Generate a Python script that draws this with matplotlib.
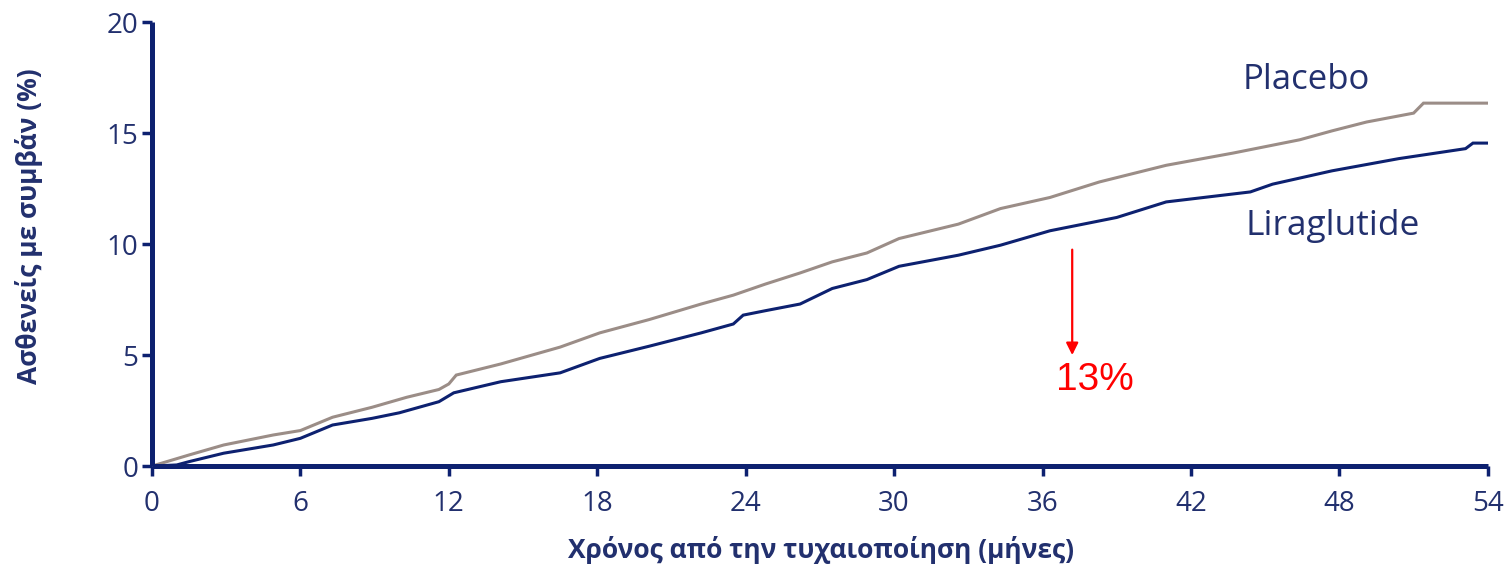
import matplotlib
matplotlib.use("Agg")
import matplotlib.pyplot as plt

plt.rcParams['font.family'] = ['Open Sans', 'DejaVu Sans']

# ---- data ----
placebo_months = [0, 1.5, 2.9, 4.9, 6.0, 7.3, 8.9, 10.3, 11.6, 12.0, 12.3, 14.1, 16.5, 18.1,
                  20.1, 22.2, 23.5, 24.8, 26.2, 27.5, 28.9, 30.2, 32.6, 34.3, 36.3, 38.3,
                  41.0, 43.7, 46.4, 47.7, 49.1, 51.0, 51.4, 54]
placebo_pct = [0, 0.5, 0.95, 1.4, 1.6, 2.2, 2.65, 3.1, 3.45, 3.7, 4.1, 4.6, 5.36, 6.0,
               6.6, 7.3, 7.7, 8.2, 8.7, 9.2, 9.6, 10.25, 10.9, 11.6, 12.1, 12.8,
               13.55, 14.1, 14.7, 15.1, 15.5, 15.9, 16.35, 16.35]

lira_months = [0, 1.0, 1.5, 2.9, 4.9, 6.0, 7.3, 8.9, 10.0, 11.6, 12.2, 14.1, 16.5, 18.1,
               20.1, 22.2, 23.5, 23.9, 24.8, 26.2, 27.5, 28.9, 30.2, 32.6, 34.3, 36.3,
               39.0, 41.0, 44.4, 45.3, 47.7, 50.4, 53.1, 53.4, 54]
lira_pct = [0, 0.05, 0.2, 0.58, 0.95, 1.25, 1.85, 2.15, 2.4, 2.9, 3.3, 3.8, 4.2, 4.85,
            5.4, 6.0, 6.4, 6.8, 7.0, 7.3, 8.0, 8.4, 9.0, 9.5, 9.95, 10.6,
            11.2, 11.9, 12.35, 12.7, 13.3, 13.85, 14.3, 14.55, 14.55]

x_ticks = [0, 6, 12, 18, 24, 30, 36, 42, 48, 54]
y_ticks = [0, 5, 10, 15, 20]

series_names = ["Placebo", "Liraglutide"]
reduction_label = "13%"
x_label = "Χρόνος από την τυχαιοποίηση (μήνες)"
y_label = "Ασθενείς με συμβάν (%)"

# ---- styling ----
NAVY = "#0d2170"
TEXT = "#22306e"
GREY = "#9b8d87"
RED = "#ff0000"

fig = plt.figure(figsize=(15.12, 5.67), dpi=100)
ax = fig.add_axes([0.1005, 0.178, 0.8835, 0.783])

ax.plot(placebo_months, placebo_pct, color=GREY, lw=2.2, solid_joinstyle='miter')
ax.plot(lira_months, lira_pct, color=NAVY, lw=2.2, solid_joinstyle='miter')

ax.set_xlim(0, 54)
ax.set_ylim(0, 20)
ax.set_xticks(x_ticks)
ax.set_yticks(y_ticks)

for side in ['top', 'right']:
    ax.spines[side].set_visible(False)
for side in ['left', 'bottom']:
    ax.spines[side].set_color(NAVY)
    ax.spines[side].set_linewidth(3.6)
    ax.spines[side].set_capstyle('butt')

ax.tick_params(axis='both', direction='out', length=7, width=2.5, color=NAVY,
               labelcolor=TEXT, labelsize=20)
ax.tick_params(axis='x', pad=10)
ax.tick_params(axis='y', pad=3)

ax.set_xlabel(x_label, fontsize=19, fontweight='bold', color=TEXT)
ax.set_ylabel(y_label, fontsize=19, fontweight='bold', color=TEXT)
ax.xaxis.set_label_coords(0.501, -0.158)
ax.yaxis.set_label_coords(-0.0816, 0.54)

ax.text(44.1, 17.4, series_names[0], fontsize=25, color=TEXT, va='center', ha='left')
ax.text(44.2, 10.8, series_names[1], fontsize=25.5, color=TEXT, va='center', ha='left')

ax.annotate("", xy=(37.2, 5.0), xytext=(37.2, 9.75),
            arrowprops=dict(arrowstyle='-|>', color=RED, lw=1.6,
                            mutation_scale=18, shrinkA=0, shrinkB=0))
ax.text(38.1, 3.9, reduction_label, fontsize=28, color=RED, ha='center', va='center',
        family=['Liberation Sans', 'DejaVu Sans'])

fig.savefig("out.png", dpi=100)
